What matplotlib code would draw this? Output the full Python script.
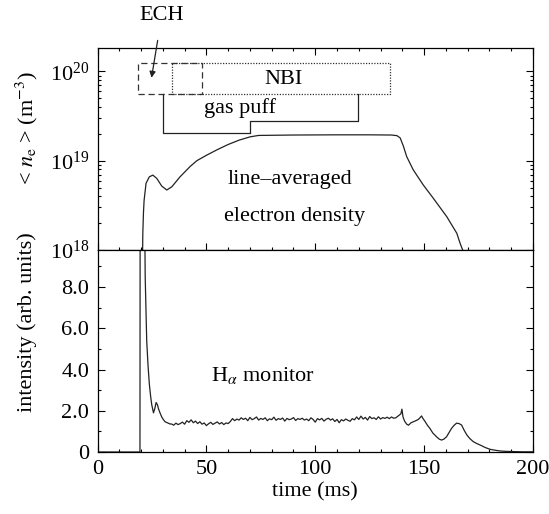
import matplotlib
matplotlib.use('Agg')
import matplotlib.pyplot as plt
from matplotlib.ticker import MultipleLocator, FixedLocator, FuncFormatter, LogLocator, NullFormatter

plt.rcParams['font.family'] = ['Liberation Serif', 'DejaVu Serif']
plt.rcParams['mathtext.fontset'] = 'stix'

# ---------------- data ----------------
ne_time = [20.5, 20.8, 21.1, 21.4, 22.3, 23.8, 25.4, 27.2, 29.5, 31.8, 34.1, 37.9,
           42.5, 45.6, 50.0, 55.0, 60.0, 65.0, 70.0, 74.0, 90.0, 110.0, 125.0,
           135.0, 137.5, 139.0, 140.5, 142.0, 145.0, 149.6, 154.2, 160.4, 165.0,
           166.5, 167.7, 168.5]
ne_value = [3e17, 1.5e18, 2.6e18, 3.6e18, 5.6e18, 6.6e18, 6.9e18, 6.35e18, 5.2e18,
            4.7e18, 5.1e18, 6.6e18, 8.6e18, 1.0e19, 1.15e19, 1.33e19, 1.52e19,
            1.7e19, 1.85e19, 1.92e19, 1.94e19, 1.95e19, 1.95e19, 1.94e19, 1.91e19,
            1.8e19, 1.45e19, 1.11e19, 7.9e18, 5.35e18, 3.8e18, 2.36e18, 1.54e18,
            1.19e18, 1.0e18, 8e17]

ha_time_rise = [0.0, 19.5, 19.6, 21.4, 21.9, 22.6, 23.2, 23.8, 24.4, 24.9, 25.7,
                26.3, 26.9, 27.5, 28.0, 28.7, 29.5, 30.2, 31.0, 32.0, 33.3]
ha_value_rise = [0.0, 0.0, 15.0, 15.0, 8.5, 5.4, 4.2, 3.3, 2.7, 2.3, 1.9,
                 2.1, 2.4, 2.3, 2.1, 1.9, 1.7, 1.58, 1.47, 1.42, 1.36]
ha_time_flat = list(range(34, 139))
ha_value_flat = [1.36, 1.30, 1.40, 1.33, 1.38, 1.45, 1.35, 1.52, 1.44, 1.56,
                 1.42, 1.50, 1.38, 1.47, 1.35, 1.41, 1.28, 1.37, 1.44, 1.34,
                 1.40, 1.46, 1.36, 1.43, 1.33, 1.41, 1.38, 1.48, 1.62, 1.52,
                 1.60, 1.55, 1.66, 1.58, 1.64, 1.52, 1.68, 1.57, 1.62, 1.70,
                 1.55, 1.63, 1.58, 1.66, 1.52, 1.61, 1.57, 1.69, 1.54, 1.62,
                 1.58, 1.65, 1.50, 1.63, 1.57, 1.60, 1.67, 1.53, 1.62, 1.58,
                 1.64, 1.55, 1.60, 1.52, 1.66, 1.58, 1.45, 1.62, 1.56, 1.63,
                 1.50, 1.59, 1.64, 1.55, 1.61, 1.48, 1.58, 1.42, 1.57, 1.51,
                 1.60, 1.54, 1.49, 1.62, 1.56, 1.70, 1.58, 1.74, 1.60, 1.68,
                 1.55, 1.72, 1.62, 1.66, 1.58, 1.71, 1.60, 1.67, 1.63, 1.69,
                 1.62, 1.70, 1.64, 1.66, 1.74]
ha_time_end = [139.3, 139.8, 140.3, 141.0, 142.0, 142.8, 144.0, 145.1, 146.2, 147.3,
               148.0, 148.8, 149.5, 150.3, 151.5, 152.6, 154.0, 155.7, 157.0, 158.0,
               159.0, 160.3, 161.5, 162.6, 163.8, 164.9, 166.0, 167.2, 168.4, 169.6,
               171.0, 172.6, 174.0, 175.7, 178.0, 180.3, 183.0, 185.0, 188.0, 191.0,
               195.0, 200.0]
ha_value_end = [1.85, 2.08, 1.70, 1.50, 1.35, 1.30, 1.42, 1.47, 1.52, 1.58,
                1.65, 1.75, 1.62, 1.50, 1.30, 1.15, 0.92, 0.74, 0.62, 0.58,
                0.62, 0.74, 0.95, 1.15, 1.30, 1.40, 1.38, 1.31, 1.05, 0.83,
                0.65, 0.50, 0.42, 0.34, 0.22, 0.13, 0.08, 0.05, 0.03, 0.02,
                0.01, 0.01]

ech_window = [18.5, 47.9]
nbi_window = [34.1, 134.4]
box_levels = [5.55e19, 1.23e20]
puff_time = [30.2, 30.2, 70.0, 70.0, 119.8, 119.8]
puff_level = [5.55e19, 2.03e19, 2.03e19, 2.8e19, 2.8e19, 5.55e19]

x_major = [0, 50, 100, 150, 200]
ha_ticks = [0, 2, 4, 6, 8]

# ---------------- figure ----------------
fig = plt.figure(figsize=(5.49, 5.14), dpi=100)
ax1 = fig.add_axes([0.1776, 0.5136, 0.7933, 0.393])
ax2 = fig.add_axes([0.1776, 0.1206, 0.7933, 0.393])

lw = 0.9
fs = 16

# top panel
ax1.plot(ne_time, ne_value, color='#222222', lw=lw)
ax1.set_yscale('log')
ax1.set_ylim(1e18, 1.83e20)
ax1.set_xlim(0, 200)

def box(ax, t0, t1, lo, hi, ls):
    ax.plot([t0, t1, t1, t0, t0], [lo, lo, hi, hi, lo], color='#333333', lw=0.9, ls=ls)

box(ax1, ech_window[0], ech_window[1], box_levels[0], box_levels[1], (0, (5, 3)))
box(ax1, nbi_window[0], nbi_window[1], box_levels[0], box_levels[1], (0, (1, 1.2)))
ax1.plot(puff_time, puff_level, color='#222222', lw=lw)

ax1.text(85.3, 8.1e19, 'NBI', ha='center', va='center', fontsize=fs)
ax1.text(65.5, 3.9e19, 'gas puff', ha='center', va='center', fontsize=fs)
ax1.text(88.5, 6.1e18, 'line\u2013averaged', ha='center', va='center', fontsize=fs)
ax1.text(90.5, 2.4e18, 'electron density', ha='center', va='center', fontsize=fs)
ax1.annotate('ECH', xy=(24.8, 8.5e19), xytext=(29.5, 4.2e20), ha='center', va='center',
             fontsize=fs, annotation_clip=False,
             arrowprops=dict(arrowstyle='-|>', color='#222222', lw=0.9,
                             mutation_scale=9, shrinkA=9, shrinkB=0))

ax1.yaxis.set_major_locator(LogLocator(base=10, numticks=10))
ax1.yaxis.set_minor_locator(LogLocator(base=10, subs=range(2, 10), numticks=20))
ax1.yaxis.set_minor_formatter(NullFormatter())
ax1.xaxis.set_major_locator(FixedLocator(x_major))
ax1.xaxis.set_minor_locator(MultipleLocator(10))
ax1.tick_params(axis='x', labelbottom=False)
ax1.tick_params(which='both', direction='in', top=True, right=True, width=0.8,
                labelsize=fs, pad=6)
ax1.tick_params(which='major', length=5)
ax1.tick_params(which='minor', length=2.5)

# bottom panel
ha_time = ha_time_rise + ha_time_flat + ha_time_end
ha_value = ha_value_rise + ha_value_flat + ha_value_end
ax2.plot(ha_time, ha_value, color='#222222', lw=lw)
ax2.set_xlim(0, 200)
ax2.set_ylim(0, 9.8)
ax2.text(76, 3.7, r'H$_{\alpha}$ monitor', ha='center', va='center', fontsize=fs)
ax2.xaxis.set_major_locator(FixedLocator(x_major))
ax2.xaxis.set_minor_locator(MultipleLocator(10))
ax2.yaxis.set_major_locator(FixedLocator(ha_ticks))
ax2.yaxis.set_minor_locator(MultipleLocator(1))
ax2.yaxis.set_major_formatter(FuncFormatter(lambda v, p: '0' if v == 0 else '%.1f' % v))
ax2.tick_params(which='both', direction='in', top=False, right=True, width=0.8,
                labelsize=fs, pad=6)
ax2.tick_params(which='major', length=5)
ax2.tick_params(which='minor', length=2.5)
ax2.set_xlabel('time (ms)', fontsize=fs, labelpad=2)

for ax in (ax1, ax2):
    for s in ax.spines.values():
        s.set_linewidth(0.9)

fig.text(27 / 549, 1 - 128 / 514, r'< $n_{\rm e}$ > (m$^{-3}$)', rotation=90,
         ha='center', va='center', fontsize=fs)
fig.text(27 / 549, 1 - 322 / 514, 'intensity (arb. units)', rotation=90,
         ha='center', va='center', fontsize=fs)

fig.savefig('out.png', dpi=100)
